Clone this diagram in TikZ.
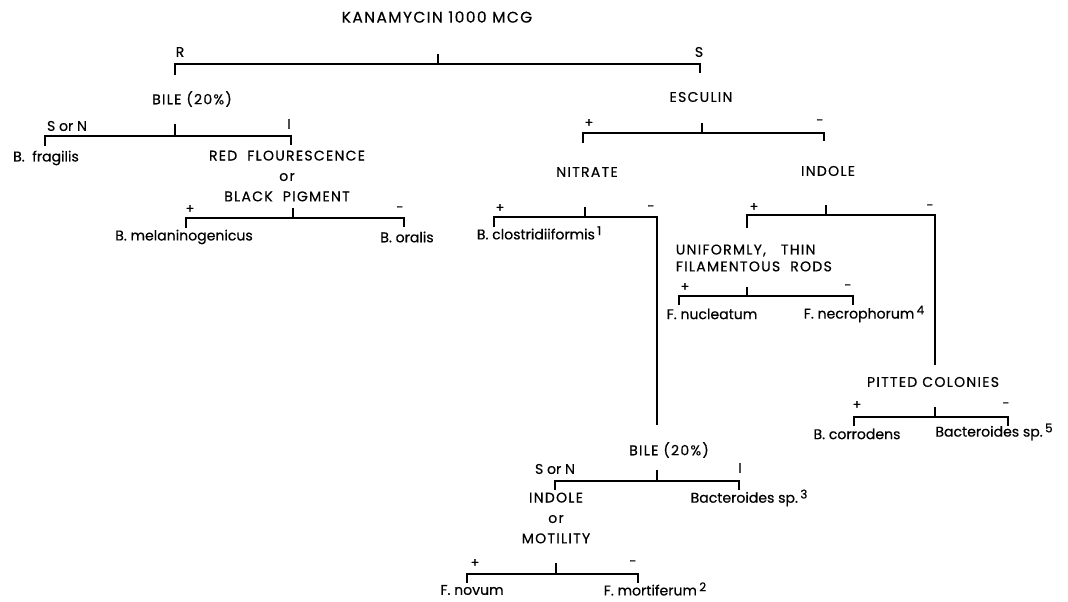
\documentclass[tikz,border=0pt]{standalone}
\usepackage{fontspec}
\setmainfont{Poppins}[FakeBold=0.5]
\newfontfamily\capsfont{Poppins}[FakeBold=0.5,LetterSpace=9]
\newcommand{\fnote}[1]{\,\raisebox{0.55ex}{\fontsize{8.5}{9}\selectfont #1}}

\begin{document}
\begin{tikzpicture}[x=0.025cm,y=-0.025cm,line width=1.2pt,
                    every node/.style={inner sep=0pt,font=\fontsize{10}{12}\selectfont}]
  \tikzstyle{test}=[align=center,font=\capsfont\fontsize{10}{12}\selectfont]
  \tikzstyle{multi}=[align=center,font=\capsfont\fontsize{10}{14.5}\selectfont]
  \tikzstyle{sign}=[font=\fontsize{9}{10}\selectfont]

  \useasboundingbox (0,0) rectangle (1068,602);

  % kanamycin
  \node[font=\capsfont\fontsize{11}{13}\selectfont] (kan) at (437,17) {KANAMYCIN\ 1000\ MCG};
  \node (kanr) at (180,52) {R};
  \node (kans) at (699,52) {S};
  \coordinate (kanT) at (438,54);
  \coordinate (kanB) at (438,64);
  \coordinate (kanL) at (175,75);
  \coordinate (kanR) at (700,73);
  \draw (kanT) -- (kanB);
  \draw (kanL) |- (kanB) -| (kanR);

  % resistant side
  \node[test] (bile) at (192,99) {BILE\ (20\%)};
  \node (bilen) at (67,126) {S or N};
  \node (bilei) at (289,124) {I};
  \coordinate (bileT) at (175,124);
  \coordinate (bileB) at (175,136);
  \coordinate (bileL) at (45,146);
  \coordinate (bileR) at (291,145);
  \draw (bileT) -- (bileB);
  \draw (bileL) |- (bileB) -| (bileR);
  \node (frag) at (46,158) {B.\ \ fragilis};

  \node[multi] (red) at (287,176) {RED\ \ FLOURESCENCE\\or\\BLACK\ \ PIGMENT};
  \node[sign] (redp) at (190,209) {+};
  \node[sign] (redm) at (400,209) {-};
  \coordinate (redT) at (293,208);
  \coordinate (redB) at (293,218);
  \coordinate (redL) at (186,228);
  \coordinate (redR) at (404,227);
  \draw (redT) -- (redB);
  \draw (redL) |- (redB) -| (redR);
  \node (mel) at (184,237) {B.\ melaninogenicus};
  \node (oral) at (407,237) {B.\ oralis};

  % sensitive side
  \node[test] (esc) at (701,97) {ESCULIN};
  \node[sign] (escp) at (589,123) {+};
  \node[sign] (escm) at (820,122) {-};
  \coordinate (escT) at (702,123);
  \coordinate (escB) at (702,133);
  \coordinate (escL) at (583,143);
  \coordinate (escR) at (824,141);
  \draw (escT) -- (escB);
  \draw (escL) |- (escB) -| (escR);
  \node[test] (nit) at (587,172) {NITRATE};
  \node[test] (ind) at (828,171) {INDOLE};

  % nitrate
  \node[sign] (nitp) at (500,208) {+};
  \node[sign] (nitm) at (651,208) {-};
  \coordinate (nitT) at (585,207);
  \coordinate (nitB) at (585,217);
  \coordinate (nitL) at (494,227);
  \coordinate (nitR) at (657,425);
  \draw (nitT) -- (nitB);
  \draw (nitL) |- (nitB) -| (nitR);
  \node (clos) at (539,233) {B.\ clostridiiformis\fnote{1}};

  % indole
  \node[sign] (indp) at (754,207) {+};
  \node[sign] (indm) at (930,207) {-};
  \coordinate (indT) at (826,205);
  \coordinate (indB) at (826,215);
  \coordinate (indL) at (747,228);
  \coordinate (indR) at (935,365);
  \draw (indT) -- (indB);
  \draw (indL) |- (indB) -| (indR);

  \node[align=left,anchor=west,font=\capsfont\fontsize{10}{12}\selectfont] (rods) at (675,258)
       {UNIFORMLY,\ \ \ THIN\\FILAMENTOUS\ \ RODS};
  \node[sign] (rodsp) at (685,287) {+};
  \node[sign] (rodsm) at (848,287) {-};
  \coordinate (rodsT) at (747,287);
  \coordinate (rodsB) at (747,296);
  \coordinate (rodsL) at (679,305);
  \coordinate (rodsR) at (853,305);
  \draw (rodsT) -- (rodsB);
  \draw (rodsL) |- (rodsB) -| (rodsR);
  \node (nuc) at (712,314) {F.\ nucleatum};
  \node (necr) at (864,314) {F.\ necrophorum\fnote{4}};

  \node[test] (pit) at (933,382) {PITTED\ COLONIES};
  \node[sign] (pitp) at (857,405) {+};
  \node[sign] (pitm) at (1006,405) {-};
  \coordinate (pitT) at (935,407);
  \coordinate (pitB) at (935,417);
  \coordinate (pitL) at (854,426);
  \coordinate (pitR) at (1008,426);
  \draw (pitT) -- (pitB);
  \draw (pitL) |- (pitB) -| (pitR);
  \node (corr) at (857,434) {B.\ corrodens};
  \node (bact5) at (994,432) {Bacteroides sp.\fnote{5}};

  % nitrate negative
  \node[test] (bileb) at (669,450) {BILE (20\%)};
  \node (bilebn) at (555,469) {S or N};
  \node (bilebi) at (740,468) {I};
  \coordinate (bilebT) at (657,470);
  \coordinate (bilebB) at (657,481);
  \coordinate (bilebL) at (555,490);
  \coordinate (bilebR) at (739,490);
  \draw (bilebT) -- (bilebB);
  \draw (bilebL) |- (bilebB) -| (bilebR);
  \node (bact3) at (749,498) {Bacteroides sp.\fnote{3}};

  \node[multi] (mot) at (556,518) {INDOLE\\or\\MOTILITY};
  \node[sign] (motp) at (475,563) {+};
  \node[sign] (motm) at (633,563) {-};
  \coordinate (motT) at (556,563);
  \coordinate (motB) at (556,574);
  \coordinate (motL) at (467,583);
  \coordinate (motR) at (638,583);
  \draw (motT) -- (motB);
  \draw (motL) |- (motB) -| (motR);
  \node (nov) at (472,590) {F.\ novum};
  \node (mort) at (655,589) {F.\ mortiferum\fnote{2}};

\end{tikzpicture}
\end{document}
